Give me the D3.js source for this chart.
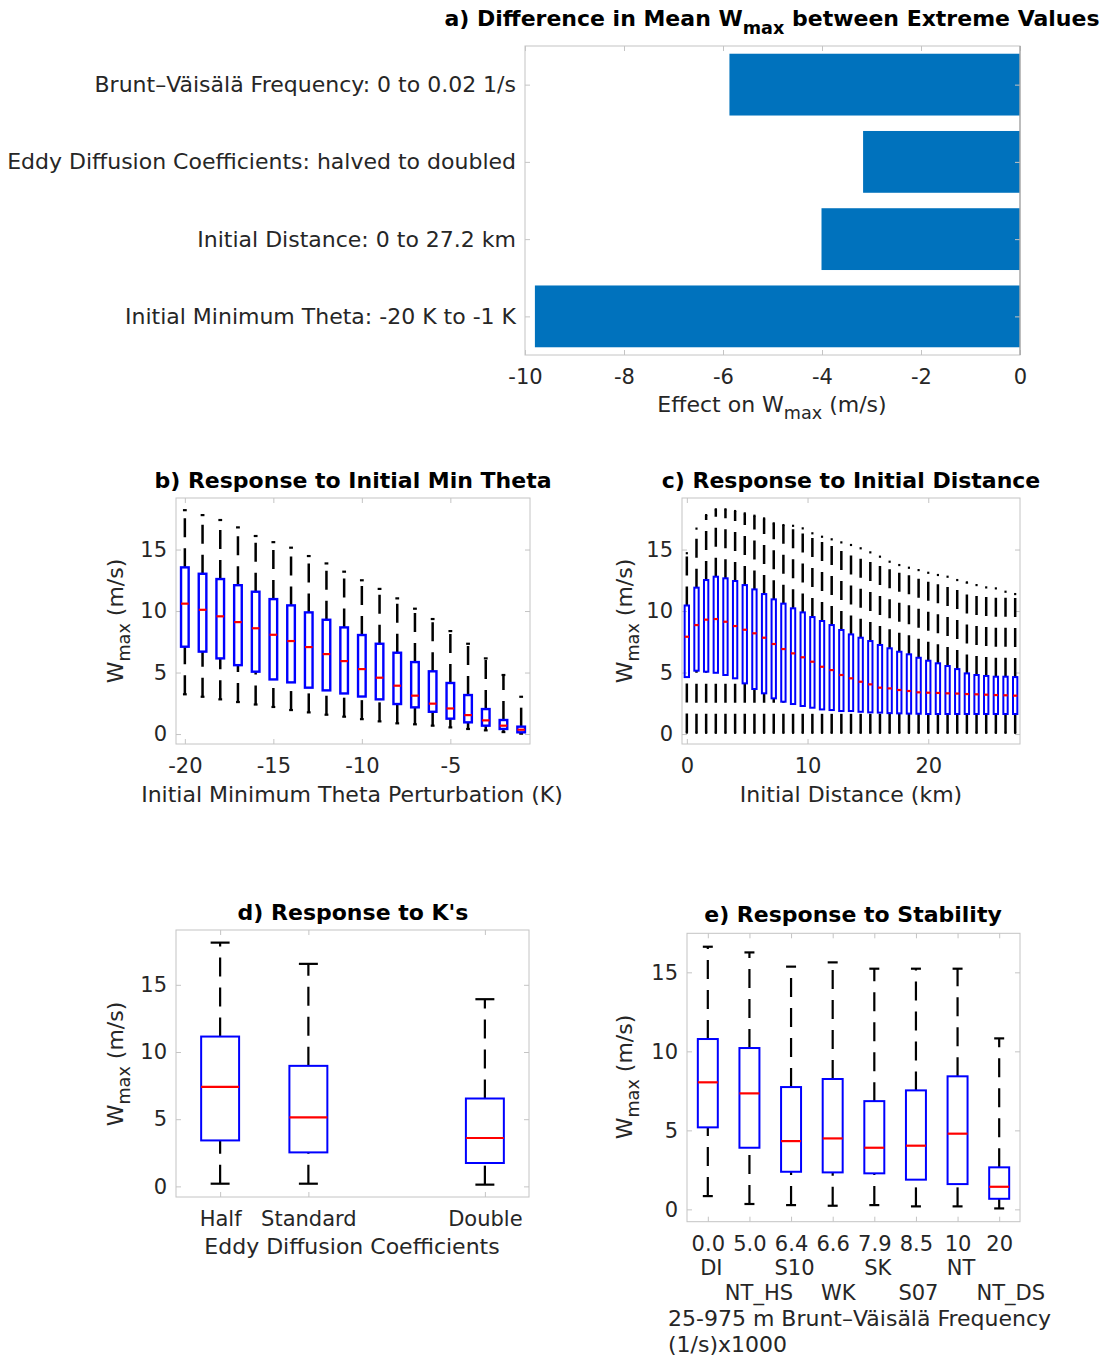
<!DOCTYPE html>
<html><head><meta charset="utf-8">
<script src="https://cdn.jsdelivr.net/npm/d3@7"></script>
<style>
body{margin:0;background:#fff}
text{font-family:"DejaVu Sans",sans-serif}
</style>
</head><body>
<svg id="chart" width="1102" height="1359"></svg>
<script>
// ---------------- DATA ----------------
const aCategories = ["Brunt–Väisälä Frequency: 0 to 0.02 1/s","Eddy Diffusion Coefficients: halved to doubled","Initial Distance: 0 to 27.2 km","Initial Minimum Theta: -20 K to -1 K"];
const aValues = [-5.87, -3.17, -4.01, -9.80];
const aTicks = [-10, -8, -6, -4, -2, 0];

const bPositions = [-20,-19,-18,-17,-16,-15,-14,-13,-12,-11,-10,-9,-8,-7,-6,-5,-4,-3,-2,-1];
const bHi  = [18.2,17.8,17.4,16.8,16.1,15.6,15.15,14.47,13.87,13.2,12.5,11.8,11.03,10.19,9.35,8.37,7.34,6.15,4.8,3.03];
const bQ3  = [13.55,13.03,12.6,12.1,11.57,10.97,10.46,9.89,9.29,8.67,8.05,7.34,6.61,5.85,5.1,4.15,3.17,2.03,1.14,0.6];
const bMed = [10.6,10.1,9.57,9.1,8.6,8.07,7.56,7.07,6.5,5.93,5.28,4.58,3.93,3.12,2.47,2.08,1.54,1.11,0.68,0.35];
const bQ1  = [7.1,6.7,6.15,5.6,5.07,4.44,4.2,3.77,3.55,3.3,3.05,2.82,2.44,2.17,1.81,1.25,0.95,0.68,0.41,0.14];
const bLo  = [3.23,3.03,2.82,2.6,2.4,2.2,1.95,1.76,1.57,1.41,1.21,1.03,0.87,0.79,0.68,0.54,0.41,0.3,0.16,0.03];
const bTicks = [-20,-15,-10,-5];

const cPositions = [0,0.8,1.6,2.4,3.2,4.0,4.8,5.6,6.4,7.2,8.0,8.8,9.6,10.4,11.2,12.0,12.8,13.6,14.4,15.2,16.0,16.8,17.6,18.4,19.2,20.0,20.8,21.6,22.4,23.2,24.0,24.8,25.6,26.4,27.2];
const cHi  = [14.7,16.7,17.8,18.27,18.27,18.13,17.94,17.75,17.53,17.13,16.99,16.93,16.72,16.32,16.04,15.83,15.58,15.37,15.1,14.77,14.42,14.01,13.74,13.52,13.33,13.11,12.93,12.79,12.52,12.33,12.11,11.92,11.84,11.57,11.38];
const cQ3  = [10.45,11.9,12.52,12.79,12.66,12.44,12.11,11.76,11.38,10.95,10.6,10.22,9.89,9.51,9.19,8.86,8.46,8.1,7.83,7.56,7.24,6.97,6.69,6.48,6.2,5.96,5.75,5.53,5.28,4.93,4.8,4.72,4.66,4.66,4.63];
const cMed = [7.91,8.86,9.3,9.35,9.13,8.78,8.48,8.19,7.83,7.32,6.91,6.56,6.24,5.88,5.47,5.2,4.8,4.53,4.25,4.04,3.77,3.71,3.58,3.5,3.39,3.36,3.34,3.31,3.29,3.25,3.23,3.2,3.17,3.15,3.12];
const cQ1  = [4.63,5.15,5.07,4.98,4.8,4.53,4.12,3.66,3.31,2.9,2.63,2.44,2.28,2.14,2.0,1.95,1.87,1.87,1.81,1.76,1.74,1.7,1.68,1.66,1.65,1.63,1.63,1.63,1.63,1.63,1.63,1.63,1.63,1.63,1.63];
const cLo  = [0.12,0.1,0.1,0.1,0.1,0.1,0.1,0.1,0.1,0.1,0.1,0.1,0.1,0.1,0.1,0.1,0.1,0.1,0.1,0.1,0.1,0.1,0.1,0.1,0.1,0.1,0.1,0.1,0.1,0.1,0.1,0.1,0.1,0.1,0.1];
const cTicks = [0,10,20];

const dLabels = ["Half","Standard","Double"];
const dPositions = [0.5, 1, 2];
const dHi  = [18.14,16.56,13.93];
const dQ3  = [11.15,8.97,6.54];
const dMed = [7.41,5.13,3.6];
const dQ1  = [3.42,2.53,1.74];
const dLo  = [0.2,0.2,0.13];

const eNbv  = ["0.0","5.0","6.4","6.6","7.9","8.5","10","20"];
const eRow2 = ["DI","","S10","","SK","","NT",""];
const eRow3 = ["","NT_HS","","WK","","S07","","NT_DS"];
const eHi  = [16.62,16.26,15.36,15.63,15.23,15.23,15.23,10.82];
const eQ3  = [10.78,10.21,7.74,8.25,6.85,7.53,8.42,2.66];
const eMed = [8.04,7.34,4.32,4.49,3.9,4.03,4.79,1.43];
const eQ1  = [5.19,3.9,2.38,2.34,2.28,1.88,1.6,0.67];
const eLo  = [0.84,0.34,0.27,0.23,0.27,0.19,0.19,0.06];

const wTicks = [0,5,10,15];

// ---------------- STYLE ----------------
const TXT = "#262626", AX = "#c4c4c4", FS = 22, TKFS = 21, TFS = 22;
const svg = d3.select("#chart");
const hyph = d => String(d);

function styleAxis(g){
  g.select(".domain").remove();
  g.selectAll(".tick line").attr("stroke", AX).attr("stroke-width", 1);
  g.selectAll(".tick text").attr("fill", TXT).attr("font-size", TKFS).attr("font-family", "DejaVu Sans");
}

function frame(x, y, xTicks, yTicks, xFmt, yFmt, yFs = TKFS){
  const [x0, x1] = x.range(), [y0, y1] = y.range();
  const g = svg.append("g");
  g.append("rect").attr("x", x0).attr("y", y1).attr("width", x1 - x0).attr("height", y0 - y1)
    .attr("fill", "none").attr("stroke", AX).attr("stroke-width", 1);
  const bx = g.append("g").attr("transform", `translate(0,${y0})`)
    .call(d3.axisBottom(x).tickValues(xTicks).tickSizeInner(-5).tickSizeOuter(0).tickPadding(14).tickFormat(xFmt));
  styleAxis(bx);
  const tx = g.append("g").attr("transform", `translate(0,${y1})`)
    .call(d3.axisTop(x).tickValues(xTicks).tickSizeInner(-5).tickSizeOuter(0).tickFormat(() => ""));
  styleAxis(tx);
  const ly = g.append("g").attr("transform", `translate(${x0},0)`)
    .call(d3.axisLeft(y).tickValues(yTicks).tickSizeInner(-5).tickSizeOuter(0).tickPadding(9).tickFormat(yFmt));
  styleAxis(ly);
  ly.selectAll(".tick text").attr("font-size", yFs);
  const ry = g.append("g").attr("transform", `translate(${x1},0)`)
    .call(d3.axisRight(y).tickValues(yTicks).tickSizeInner(-5).tickSizeOuter(0).tickFormat(() => ""));
  styleAxis(ry);
  return {g, bx};
}

function title(cx, baseline, pre, sub, post){
  const t = svg.append("text").attr("x", cx).attr("y", baseline).attr("text-anchor", "middle")
    .attr("font-size", TFS).attr("font-weight", "bold").attr("fill", "#000");
  t.append("tspan").text(pre);
  if (sub){
    t.append("tspan").attr("dy", 8).attr("font-size", TFS * 0.8).text(sub);
    t.append("tspan").attr("dy", -8).text(post);
  }
}

function plainText(cx, baseline, str, anchor = "middle"){
  svg.append("text").attr("x", cx).attr("y", baseline).attr("text-anchor", anchor)
    .attr("font-size", FS).attr("fill", TXT).text(str);
}

function wmaxLabel(x, y, rotate, pre, post){
  const t = svg.append("text").attr("text-anchor", "middle").attr("font-size", FS).attr("fill", TXT)
    .attr("transform", rotate ? `translate(${x},${y}) rotate(-90)` : `translate(${x},${y})`);
  t.append("tspan").text(pre);
  t.append("tspan").attr("dy", 7).attr("font-size", FS * 0.8).text("max");
  t.append("tspan").attr("dy", -7).text(post);
  return t;
}

function boxplot(x, y, pos, lo, q1, med, q3, hi, wUnits, opts = {}){
  const bw = opts.boxStroke || 2;
  const ws = opts.whiskerStroke || 2.2;
  const g = svg.append("g");
  const data = pos.map((p, i) => ({p, lo: lo[i], q1: q1[i], med: med[i], q3: q3[i], hi: hi[i]}));
  const half = (x(wUnits) - x(0)) / 2;
  const dash = "19 11";
  g.selectAll(".wu").data(data).join("line")
    .attr("x1", d => x(d.p)).attr("x2", d => x(d.p)).attr("y1", d => y(d.q3)).attr("y2", d => y(d.hi))
    .attr("stroke", "#000").attr("stroke-width", ws).attr("stroke-dasharray", dash);
  g.selectAll(".wl").data(data).join("line")
    .attr("x1", d => x(d.p)).attr("x2", d => x(d.p)).attr("y1", d => y(d.lo)).attr("y2", d => y(d.q1))
    .attr("stroke", "#000").attr("stroke-width", ws).attr("stroke-dasharray", dash);
  ["hi", "lo"].forEach(k => {
    g.selectAll(".cap" + k).data(data).join("line")
      .attr("x1", d => x(d.p) - half / 2).attr("x2", d => x(d.p) + half / 2)
      .attr("y1", d => y(d[k])).attr("y2", d => y(d[k]))
      .attr("stroke", "#000").attr("stroke-width", 2.2);
  });
  g.selectAll(".box").data(data).join("rect")
    .attr("x", d => x(d.p) - half).attr("width", 2 * half)
    .attr("y", d => y(d.q3)).attr("height", d => y(d.q1) - y(d.q3))
    .attr("fill", "none").attr("stroke", "#0000ff").attr("stroke-width", bw);
  g.selectAll(".med").data(data).join("line")
    .attr("x1", d => x(d.p) - half).attr("x2", d => x(d.p) + half)
    .attr("y1", d => y(d.med)).attr("y2", d => y(d.med))
    .attr("stroke", "#ff0000").attr("stroke-width", 2.2);
}

// ---------------- PANEL A ----------------
{
  const x = d3.scaleLinear().domain([-10, 0]).range([525, 1020]);
  const y = d3.scaleLinear().domain([4.5, 0.5]).range([355, 46]);
  const bars = aCategories.map((c, i) => ({c, v: aValues[i], pos: i + 1}));
  svg.append("g").selectAll("rect").data(bars).join("rect")
    .attr("x", d => x(d.v)).attr("width", d => x(0) - x(d.v))
    .attr("y", d => y(d.pos - 0.4)).attr("height", d => y(d.pos + 0.4) - y(d.pos - 0.4))
    .attr("fill", "#0072BD");
  frame(x, y, aTicks, [1, 2, 3, 4], hyph, i => aCategories[i - 1], FS);
  svg.append("line").attr("x1", x(0)).attr("x2", x(0)).attr("y1", 46).attr("y2", 355).attr("stroke", "#999");
  title(772, 26, "a) Difference in Mean W", "max", " between Extreme Values");
  wmaxLabel(772, 412, false, "Effect on W", " (m/s)");
}

// ---------------- PANEL B ----------------
{
  const x = d3.scaleLinear().domain([-20.5, -0.5]).range([176, 530]);
  const y = d3.scaleLinear().domain([-0.81, 19.19]).range([744, 498]);
  frame(x, y, bTicks, wTicks, hyph, hyph);
  boxplot(x, y, bPositions, bLo, bQ1, bMed, bQ3, bHi, 0.43, {boxStroke: 2.4, whiskerStroke: 2.5});
  title(353, 488, "b) Response to Initial Min Theta");
  plainText(352, 802, "Initial Minimum Theta Perturbation (K)");
  wmaxLabel(123, 621, true, "W", " (m/s)");
}

// ---------------- PANEL C ----------------
{
  const x = d3.scaleLinear().domain([-0.4, 27.6]).range([682, 1020]);
  const y = d3.scaleLinear().domain([-0.81, 19.19]).range([744, 498]);
  frame(x, y, cTicks, wTicks, hyph, hyph);
  boxplot(x, y, cPositions, cLo, cQ1, cMed, cQ3, cHi, 0.36, {boxStroke: 2, whiskerStroke: 2.5});
  title(851, 488, "c) Response to Initial Distance");
  plainText(851, 802, "Initial Distance (km)");
  wmaxLabel(632, 621, true, "W", " (m/s)");
}

// ---------------- PANEL D ----------------
{
  const x = d3.scaleLinear().domain([0.25, 2.25]).range([176, 529]);
  const y = d3.scaleLinear().domain([-0.79, 19.08]).range([1197, 930]);
  frame(x, y, dPositions, wTicks, d => dLabels[dPositions.indexOf(d)], hyph);
  boxplot(x, y, dPositions, dLo, dQ1, dMed, dQ3, dHi, 0.215);
  title(353, 920, "d) Response to K's");
  plainText(352, 1254, "Eddy Diffusion Coefficients");
  wmaxLabel(123, 1064, true, "W", " (m/s)");
}

// ---------------- PANEL E ----------------
{
  const ePositions = eNbv.map((_, i) => i + 1);
  const row3Shift = [0, 9, 0, 5, 0, 2, 0, 11];
  const x = d3.scaleLinear().domain([0.5, 8.5]).range([687, 1020]);
  const y = d3.scaleLinear().domain([-0.78, 17.47]).range([1221.7, 933.3]);
  const f = frame(x, y, ePositions, wTicks, d => eNbv[d - 1], hyph);
  f.bx.selectAll(".tick").each(function(d){
    const t = d3.select(this);
    [[eRow2[d - 1], 24, 3], [eRow3[d - 1], 49.5, row3Shift[d - 1]]].forEach(([s, dy, dx]) => {
      if (!s) return;
      t.append("text").attr("x", dx).attr("y", 14 + dy).attr("dy", "0.71em")
        .attr("text-anchor", "middle").attr("font-size", TKFS).attr("fill", TXT).text(s);
    });
  });
  boxplot(x, y, ePositions, eLo, eQ1, eMed, eQ3, eHi, 0.48);
  title(853, 922, "e) Response to Stability");
  plainText(668, 1326, "25-975 m Brunt–Väisälä Frequency", "start");
  plainText(668, 1352, "(1/s)x1000", "start");
  wmaxLabel(632, 1077, true, "W", " (m/s)");
}
</script>
</body></html>
